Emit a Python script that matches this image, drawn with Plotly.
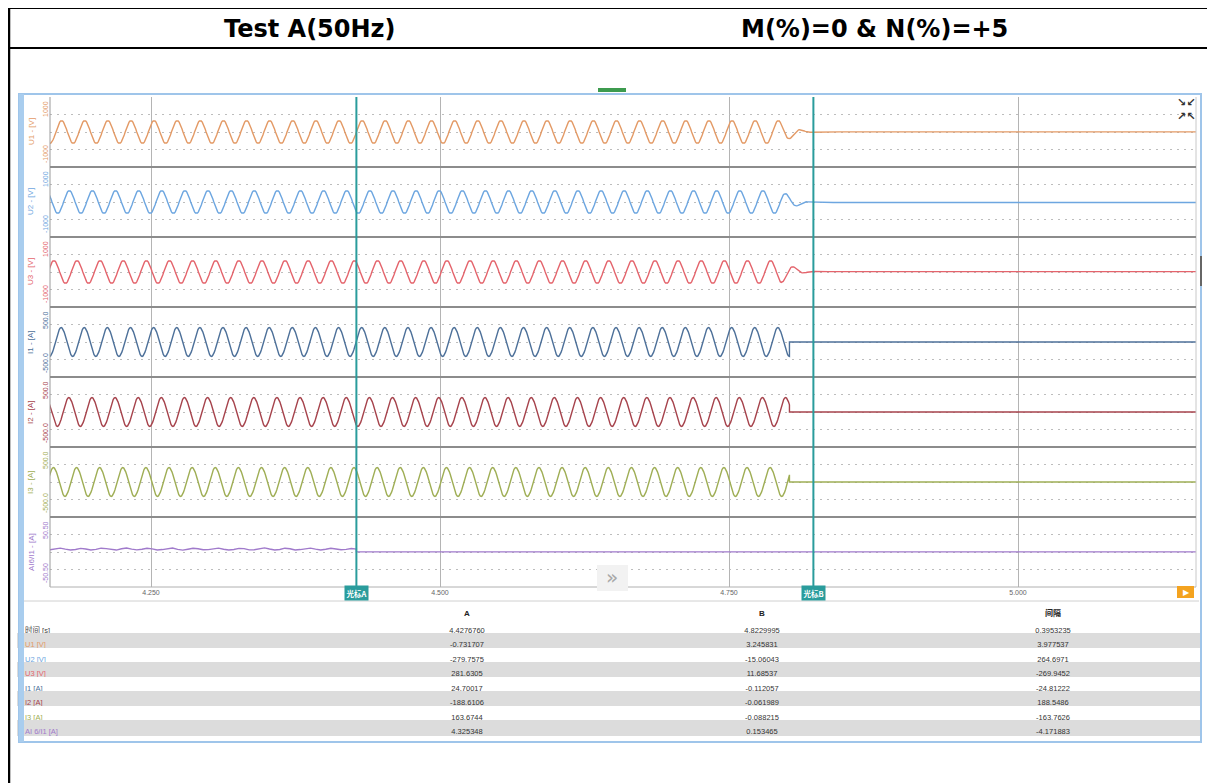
import numpy as np
import plotly.graph_objects as go

# ---------------- data ----------------
CHANNELS = ["U1 - [V]", "U2 - [V]", "U3 - [V]", "I1 - [A]", "I2 - [A]", "I3 - [A]", "AI6/I1 - [A]"]
TABLE_LABELS = ["U1 [V]", "U2 [V]", "U3 [V]", "I1 [A]", "I2 [A]", "I3 [A]", "AI 6/I1 [A]"]
COLORS = ["#e39a66", "#6da6e0", "#e4646c", "#4d7099", "#a6434c", "#9fae55", "#a07acb"]
AXIS_LIMITS = [1000, 1000, 1000, 500.0, 500.0, 500.0, 50.50]
AXIS_TOP_LABELS = ["1000", "1000", "1000", "500.0", "500.0", "500.0", "50.50"]
AXIS_BOTTOM_LABELS = ["-1000", "-1000", "-1000", "-500.0", "-500.0", "-500.0", "-50.50"]

X_RANGE = [4.16263, 5.15398]
X_TICKS = [4.25, 4.50, 4.75, 5.00]
X_TICK_LABELS = ["4.250", "4.500", "4.750", "5.000"]

CURSOR_A = 4.4276760
CURSOR_B = 4.8229995
CURSOR_LABELS = ["光标A", "光标B"]

PERIOD = 0.02
CYCLE = [0.0, 0.259, 0.5, 0.707, 0.866, 0.966, 1.0, 0.966, 0.866, 0.707, 0.5, 0.259,
         0.0, -0.259, -0.5, -0.707, -0.866, -0.966, -1.0, -0.966, -0.866, -0.707, -0.5, -0.259]
AMPLITUDES = [325, 325, 325, 205, 205, 205]
PHASES_DEG = [0.0, -120.0, 120.0, 6.9, -113.1, 126.9]
TAIL_VALUES = [3.245831, -15.06043, 11.68537, -0.112057, -0.061989, -0.088215]
# voltage run-down envelope after switch-off
DECAY_T = [4.794, 4.800, 4.806, 4.812, 4.818, 4.826]
DECAY_F = [1.0, 0.70, 0.42, 0.18, 0.06, 0.0]
CURRENT_STOP = 4.803

# AI6/I1 ripple before cursor A, then flat
AI_VALUES = [3.2, 4.8, 5.6, 4.1, 2.9, 3.6, 5.2, 4.4, 3.0, 3.8, 5.5, 4.9, 3.3, 2.8, 4.6, 5.8,
             4.2, 3.1, 3.9, 5.3, 4.5, 2.9, 3.5, 5.1, 5.7, 3.8, 2.7, 4.0, 5.4, 4.6, 3.2, 3.4,
             5.0, 5.6, 4.0, 2.8, 3.7, 5.2, 4.8, 3.1, 3.3, 4.9, 5.9, 4.3, 2.9, 3.6, 5.5, 4.7,
             3.0, 3.5, 5.1, 5.6, 4.1, 3.0, 3.9, 5.3, 4.4, 3.2, 3.8, 5.0, 4.3]
AI_TAIL = 0.153465

TABLE_HEADER = ["", "A", "B", "间隔"]
TIME_LABEL = "时间 [s]"
TIME_VALUES = ["4.4276760", "4.8229995", "0.3953235"]
A_VALUES = ["-0.731707", "-279.7575", "281.6305", "24.70017", "-188.6106", "163.6744", "4.325348"]
B_VALUES = ["3.245831", "-15.06043", "11.68537", "-0.112057", "-0.061989", "-0.088215", "0.153465"]
DELTA_VALUES = ["3.977537", "264.6971", "-269.9452", "-24.81222", "188.5486", "-163.7626", "-4.171883"]

TITLE_LEFT = "Test A(50Hz)"
TITLE_RIGHT = "M(%)=0 &amp; N(%)=+5"

# ---------------- layout helpers (window pixels -> paper) ----------------
OFF = 8                      # page body margin
FW, FH = 1207, 775           # figure size
def px(x):
    return (x - OFF) / FW
def py(y):
    return 1 - (y - OFF) / FH

PLOT_L, PLOT_R = 50, 1196
BAND_TOP, BAND_H = 97, 70
N = len(CHANNELS)

fig = go.Figure()
layout = dict(
    width=FW, height=FH, margin=dict(l=0, r=0, t=0, b=0),
    paper_bgcolor="white", plot_bgcolor="white", showlegend=False,
    font=dict(family="Liberation Sans, Noto Sans CJK SC", color="#444"),
)

# ---------------- traces ----------------
def wave_samples(ci):
    amp, ph = AMPLITUDES[ci], PHASES_DEG[ci]
    kmin = int(np.floor(((X_RANGE[0] - CURSOR_A) / PERIOD * 360 + ph) / 15)) - 1
    kmax = int(np.ceil(((X_RANGE[1] - CURSOR_A) / PERIOD * 360 + ph) / 15)) + 1
    ks = np.arange(kmin, kmax + 1)
    t = CURSOR_A + (ks * 15 - ph) / 360 * PERIOD
    shape = np.array([CYCLE[k % len(CYCLE)] for k in ks])
    return t, amp * shape

for ci in range(N):
    axn = "" if ci == 0 else str(ci + 1)
    if ci < 3:
        t, y = wave_samples(ci)
        env = np.interp(t, DECAY_T, DECAY_F)
        y = y * env + TAIL_VALUES[ci] * (1 - env)
    elif ci < 6:
        t, y = wave_samples(ci)
        keep = t <= CURRENT_STOP
        t = np.concatenate([t[keep], [t[keep][-1], X_RANGE[1]]])
        y = np.concatenate([y[keep], [TAIL_VALUES[ci], TAIL_VALUES[ci]]])
    else:
        ta = np.linspace(X_RANGE[0], CURSOR_A, len(AI_VALUES))
        t = np.concatenate([ta, [CURSOR_A, X_RANGE[1]]])
        y = np.concatenate([AI_VALUES, [AI_TAIL, AI_TAIL]])
    fig.add_trace(go.Scatter(x=t, y=y, mode="lines", xaxis="x" + axn, yaxis="y" + axn,
                             line=dict(color=COLORS[ci], width=1.4), hoverinfo="skip"))

    top = BAND_TOP + BAND_H * ci
    bot = top + BAND_H
    lim = AXIS_LIMITS[ci]
    layout["xaxis" + axn] = dict(
        domain=[px(PLOT_L), px(PLOT_R)], range=X_RANGE, anchor="y" + axn,
        tickvals=X_TICKS, ticktext=X_TICK_LABELS, showticklabels=(ci == N - 1),
        showgrid=True, gridcolor="#b4b4b4", gridwidth=1, zeroline=False,
        ticks="", tickfont=dict(size=7, color="#666"), showline=False,
        matches=None if ci == 0 else "x",
    )
    layout["yaxis" + axn] = dict(
        domain=[py(bot), py(top)], range=[-lim, lim], anchor="x" + axn,
        tickvals=[-lim / 2, 0, lim / 2], showticklabels=False, ticks="",
        showgrid=True, gridcolor="#bdbdbd", griddash="2px,5px", gridwidth=1.2, zeroline=False,
    )

# ---------------- table ----------------
fills = ["white"] + ["#dcdcdc" if i % 2 == 0 else "white" for i in range(N)]
label_col = [TIME_LABEL] + TABLE_LABELS
label_colors = ["#444"] + COLORS
TFONT = "Liberation Sans, Noto Sans CJK SC"
fig.add_trace(go.Table(
    domain=dict(x=[px(17), px(1199)], y=[py(740), py(602)]),
    columnwidth=[300, 300, 290, 292],
    header=dict(values=TABLE_HEADER, height=17, fill_color="white",
                line=dict(color="white", width=1),
                align=["left", "center", "center", "center"],
                font=dict(size=8, color="#222", family=TFONT, weight="bold")),
    cells=dict(values=[label_col, [TIME_VALUES[0]] + A_VALUES, [TIME_VALUES[1]] + B_VALUES,
                       [TIME_VALUES[2]] + DELTA_VALUES],
               height=14.5, fill_color=[fills] * 4, line=dict(color=[fills] * 4, width=1),
               align=["left", "center", "center", "center"],
               font=dict(size=7.5, family=TFONT,
                         color=[label_colors, ["#333"] * 8, ["#333"] * 8, ["#333"] * 8])),
))

# ---------------- shapes ----------------
shapes = []
def pline(x0, y0, x1, y1, color, width):
    shapes.append(dict(type="line", xref="paper", yref="paper", x0=px(x0), y0=py(y0),
                       x1=px(x1), y1=py(y1), line=dict(color=color, width=width)))

def prect(x0, y0, x1, y1, fill, line_color=None, lw=0):
    shapes.append(dict(type="rect", xref="paper", yref="paper", x0=px(x0), y0=py(y1),
                       x1=px(x1), y1=py(y0), fillcolor=fill,
                       line=dict(color=line_color or "rgba(0,0,0,0)", width=lw)))

# document table borders
pline(0, 8, 1215, 8, "black", 2)
pline(0, 48, 1215, 48, "black", 2)
pline(9, 0, 9, 783, "black", 2.5)
pline(1213, 0, 1213, 783, "black", 2)
# panel frame
prect(19, 94, 1201, 742, "rgba(0,0,0,0)", "#9fc5ea", 2)
prect(19, 94, 24, 742, "#a9cdee")
prect(598, 88, 626, 92, "#3d9b4f")
pline(1201, 256, 1201, 286, "#666", 2)
# plot borders and band separators
pline(PLOT_L, BAND_TOP, PLOT_L, BAND_TOP + BAND_H * N, "#9a9a9a", 1)
pline(PLOT_R, BAND_TOP, PLOT_R, BAND_TOP + BAND_H * N, "#c8c8c8", 1)
for i in range(1, N):
    yb = BAND_TOP + BAND_H * i
    pline(PLOT_L, yb, PLOT_R, yb, "#8c8c8c", 2)
pline(PLOT_L, BAND_TOP + BAND_H * N, PLOT_R, BAND_TOP + BAND_H * N, "#b0b0b0", 1)
pline(24, 601, 1199, 601, "#d0d0d0", 1)
# ">>" button and play button
prect(597, 565, 628, 591, "#f2f2f2")
prect(1177, 586, 1194, 598, "#f4a31f")
# cursors
for ct in (CURSOR_A, CURSOR_B):
    shapes.append(dict(type="line", xref="x7", yref="paper", x0=ct, x1=ct,
                       y0=py(588), y1=py(BAND_TOP), line=dict(color="#2a9c9c", width=2)))
layout["shapes"] = shapes

# ---------------- annotations ----------------
ann = []
def note(text, x, y, size, color, family=None, **kw):
    d = dict(text=text, x=x, y=y, xref=kw.pop("xref", "paper"), yref="paper", showarrow=False,
             xanchor=kw.pop("xanchor", "center"), yanchor=kw.pop("yanchor", "middle"),
             font=dict(size=size, color=color))
    if family:
        d["font"]["family"] = family
    d.update(kw)
    ann.append(d)

note("<b>%s</b>" % TITLE_LEFT, px(310), py(29), 24, "black", "DejaVu Sans")
note("<b>%s</b>" % TITLE_RIGHT, px(874), py(29), 24, "black", "DejaVu Sans")
for ci in range(N):
    top = BAND_TOP + BAND_H * ci
    bot = top + BAND_H
    note(CHANNELS[ci], px(31), py((top + bot) / 2), 8, COLORS[ci], textangle=-90)
    note(AXIS_TOP_LABELS[ci], px(45), py(top + 2), 7, COLORS[ci], yanchor="top", textangle=-90)
    note(AXIS_BOTTOM_LABELS[ci], px(45), py(bot - 2), 7, COLORS[ci], yanchor="bottom",
         textangle=-90)
for ct, lab in zip((CURSOR_A, CURSOR_B), CURSOR_LABELS):
    note("<b>%s</b>" % lab, ct, py(593), 7.5, "white", "Noto Sans CJK SC", xref="x7",
         bgcolor="#2a9c9c", borderpad=1.5)
note("»", px(612), py(577), 20, "#a8a8a8", "DejaVu Sans")
note("▶", px(1186), py(592), 8, "white", "DejaVu Sans")
note("<b>↘↙<br>↗↖</b>", px(1186), py(110), 11, "#333", "DejaVu Sans")
layout["annotations"] = ann

fig.update_layout(**layout)
fig.write_html("out.html")
